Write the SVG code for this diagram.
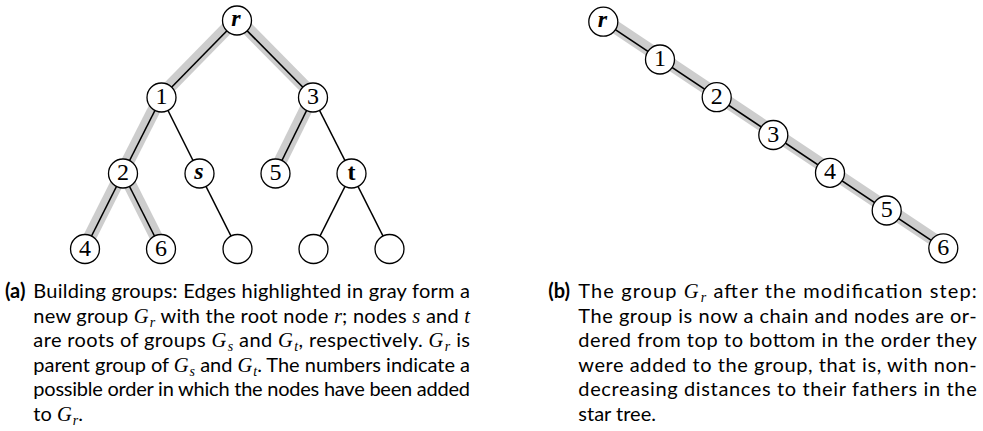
<svg xmlns="http://www.w3.org/2000/svg" width="983" height="431" viewBox="0 0 983 431">
  <style>
    .cap { font-family: Lato, "Open Sans", sans-serif; font-size: 20px; fill: #000; }
    .tag { font-weight: bold; }
    .m { font-family: "Liberation Serif", serif; font-style: italic; font-size: 20.5px; }
    .sub { font-size: 14px; }
    .hl line { stroke: #cdcdcd; stroke-width: 13; }
    .edges line { stroke: #000; stroke-width: 1.6; }
    .node circle { fill: #fff; stroke: #000; stroke-width: 1.3; }
    .node text { font-family: "Liberation Serif", serif; font-size: 24px; text-anchor: middle; fill: #000; }
    .node text.bi { font-weight: bold; font-style: italic; }
    .node text.b { font-weight: bold; }
  </style>

  <g id="connectors">
    <!-- gray band under the edges of group G_r -->
    <g class="hl" transform="translate(0,-2.5)">
      <line x1="237" y1="20.5" x2="161.5" y2="97.5"/>
      <line x1="237" y1="20.5" x2="313" y2="97.5"/>
      <line x1="161.5" y1="97.5" x2="123" y2="173.5"/>
      <line x1="313" y1="97.5" x2="275.5" y2="173.5"/>
      <line x1="123" y1="173.5" x2="85" y2="249"/>
      <line x1="123" y1="173.5" x2="161" y2="249"/>
      <!-- (b) chain -->
      <line x1="603.3" y1="21.7" x2="943.3" y2="248.3"/>
    </g>
    <!-- tree edges -->
    <g class="edges">
      <line x1="237" y1="20.5" x2="161.5" y2="97.5"/>
      <line x1="237" y1="20.5" x2="313" y2="97.5"/>
      <line x1="161.5" y1="97.5" x2="123" y2="173.5"/>
      <line x1="161.5" y1="97.5" x2="199.5" y2="173.5"/>
      <line x1="313" y1="97.5" x2="275.5" y2="173.5"/>
      <line x1="313" y1="97.5" x2="351.5" y2="173.5"/>
      <line x1="123" y1="173.5" x2="85" y2="249"/>
      <line x1="123" y1="173.5" x2="161" y2="249"/>
      <line x1="199.5" y1="173.5" x2="237.5" y2="249"/>
      <line x1="351.5" y1="173.5" x2="313.5" y2="249"/>
      <line x1="351.5" y1="173.5" x2="389.5" y2="249"/>
      <!-- (b) chain -->
      <line x1="603.3" y1="21.7" x2="943.3" y2="248.3"/>
    </g>
  </g>

  <!-- (a) tree nodes -->
  <g id="a-r" class="node"><circle cx="237" cy="20.5" r="14.5"/><text class="bi" x="236" y="26">r</text></g>
  <g id="a-1" class="node"><circle cx="161.5" cy="97.5" r="14.5"/><text x="161.5" y="104">1</text></g>
  <g id="a-3" class="node"><circle cx="313" cy="97.5" r="14.5"/><text x="313" y="104">3</text></g>
  <g id="a-2" class="node"><circle cx="123" cy="173.5" r="14.5"/><text x="123" y="180">2</text></g>
  <g id="a-s" class="node"><circle cx="199.5" cy="173.5" r="14.5"/><text class="bi" x="199" y="179">s</text></g>
  <g id="a-5" class="node"><circle cx="275.5" cy="173.5" r="14.5"/><text x="275.5" y="180">5</text></g>
  <g id="a-t" class="node"><circle cx="351.5" cy="173.5" r="14.5"/><text class="b" x="351.5" y="180">t</text></g>
  <g id="a-4" class="node"><circle cx="85" cy="249" r="14.5"/><text x="85" y="255.5">4</text></g>
  <g id="a-6" class="node"><circle cx="161" cy="249" r="14.5"/><text x="161" y="255.5">6</text></g>
  <g id="a-leaf-s" class="node"><circle cx="237.5" cy="249" r="14.5"/></g>
  <g id="a-leaf-t1" class="node"><circle cx="313.5" cy="249" r="14.5"/></g>
  <g id="a-leaf-t2" class="node"><circle cx="389.5" cy="249" r="14.5"/></g>

  <!-- (b) chain nodes -->
  <g id="b-r" class="node"><circle cx="603.3" cy="21.7" r="14.5"/><text class="bi" x="602.5" y="27">r</text></g>
  <g id="b-1" class="node"><circle cx="660" cy="59.5" r="14.5"/><text x="660" y="66">1</text></g>
  <g id="b-2" class="node"><circle cx="716.7" cy="97.2" r="14.5"/><text x="716.7" y="103.7">2</text></g>
  <g id="b-3" class="node"><circle cx="773.3" cy="135" r="14.5"/><text x="773.3" y="141.5">3</text></g>
  <g id="b-4" class="node"><circle cx="830" cy="172.8" r="14.5"/><text x="830" y="179.3">4</text></g>
  <g id="b-5" class="node"><circle cx="886.7" cy="210.5" r="14.5"/><text x="886.7" y="217">5</text></g>
  <g id="b-6" class="node"><circle cx="943.3" cy="248.3" r="14.5"/><text x="943.3" y="254.8">6</text></g>

  <!-- caption (a) -->
  <g id="caption-a">
    <text class="cap tag" x="5" y="298">(a)</text>
    <text class="cap" x="33.3" y="298" textLength="436.7" lengthAdjust="spacing">Building groups: Edges highlighted in gray form a</text>
    <text class="cap" x="33.3" y="322.5" textLength="436.7" lengthAdjust="spacing">new group <tspan class="m">G</tspan><tspan class="m sub" dx="1" dy="4">r</tspan><tspan dy="-4"> with the root node </tspan><tspan class="m">r</tspan>; nodes <tspan class="m">s</tspan> and <tspan class="m">t</tspan></text>
    <text class="cap" x="33.3" y="347" textLength="436.7" lengthAdjust="spacing">are roots of groups <tspan class="m">G</tspan><tspan class="m sub" dx="1" dy="4">s</tspan><tspan dy="-4"> and </tspan><tspan class="m">G</tspan><tspan class="m sub" dx="1" dy="4">t</tspan><tspan dy="-4">, respectively. </tspan><tspan class="m">G</tspan><tspan class="m sub" dx="1" dy="4">r</tspan><tspan dy="-4"> is</tspan></text>
    <text class="cap" x="33.3" y="371.5" textLength="436.7" lengthAdjust="spacing">parent group of <tspan class="m">G</tspan><tspan class="m sub" dx="1" dy="4">s</tspan><tspan dy="-4"> and </tspan><tspan class="m">G</tspan><tspan class="m sub" dx="1" dy="4">t</tspan><tspan dy="-4">. The numbers indicate a</tspan></text>
    <text class="cap" x="33.3" y="396" textLength="436.7" lengthAdjust="spacing">possible order in which the nodes have been added</text>
    <text class="cap" x="33.3" y="420.5">to <tspan class="m">G</tspan><tspan class="m sub" dx="1" dy="4">r</tspan><tspan dy="-4">.</tspan></text>
  </g>

  <!-- caption (b) -->
  <g id="caption-b">
    <text class="cap tag" x="548.3" y="298">(b)</text>
    <text class="cap" x="578.3" y="298" textLength="398.4" lengthAdjust="spacing">The group <tspan class="m">G</tspan><tspan class="m sub" dx="1" dy="4">r</tspan><tspan dy="-4"> after the modification step:</tspan></text>
    <text class="cap" x="578.3" y="322.5" textLength="398.4" lengthAdjust="spacing">The group is now a chain and nodes are or-</text>
    <text class="cap" x="578.3" y="347" textLength="398.4" lengthAdjust="spacing">dered from top to bottom in the order they</text>
    <text class="cap" x="578.3" y="371.5" textLength="398.4" lengthAdjust="spacing">were added to the group, that is, with non-</text>
    <text class="cap" x="578.3" y="396" textLength="398.4" lengthAdjust="spacing">decreasing distances to their fathers in the</text>
    <text class="cap" x="578.3" y="420.5">star tree.</text>
  </g>
</svg>
